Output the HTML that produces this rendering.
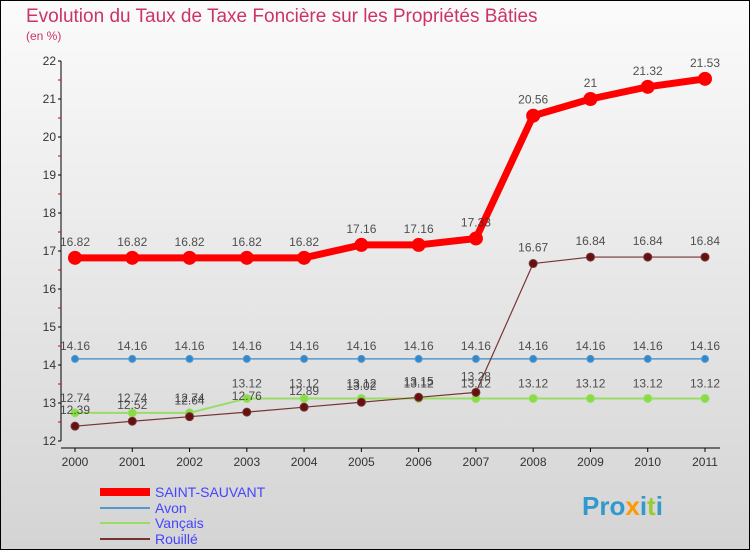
<!DOCTYPE html>
<html><head><meta charset="utf-8"><style>
body{margin:0;width:750px;height:550px;overflow:hidden;font-family:"Liberation Sans",sans-serif}
svg{display:block}
</style></head><body>
<svg id="c" width="750" height="550" xmlns="http://www.w3.org/2000/svg">
<defs><linearGradient id="bg" x1="0" y1="0" x2="0" y2="1"><stop offset="0" stop-color="#fbfbfb"/><stop offset="1" stop-color="#d4d4d4"/></linearGradient></defs>
<rect x="0.5" y="0.5" width="749" height="549" fill="url(#bg)" stroke="#000"/>
<text x="26" y="22" font-size="19" fill="#cc3366">Evolution du Taux de Taxe Foncière sur les Propriétés Bâties</text>
<text x="26" y="40" font-size="12" fill="#cc3366">(en %)</text>
<g id="axes"></g><g id="series"></g>
<g>
<rect x="100" y="488" width="50" height="8" fill="#ff0000"/>
<text x="155" y="497" font-size="14" fill="#4444ff">SAINT-SAUVANT</text>
<rect x="100" y="507" width="50" height="2" fill="#5599cc"/>
<text x="155" y="513" font-size="14" fill="#4444ff">Avon</text>
<rect x="100" y="522" width="50" height="2" fill="#99dd66"/>
<text x="155" y="528" font-size="14" fill="#4444ff">Vançais</text>
<rect x="100" y="538" width="50" height="2" fill="#773333"/>
<text x="155" y="544" font-size="14" fill="#4444ff">Rouillé</text>
</g>
<text x="582" y="515" font-size="26" font-weight="bold" fill="#3399cc">Pro<tspan fill="#ff9900">x</tspan>i<tspan fill="#99cc33">t</tspan>i</text>
</svg>
<script>
const years=[2000,2001,2002,2003,2004,2005,2006,2007,2008,2009,2010,2011];
const yTicks=[12,13,14,15,16,17,18,19,20,21,22];
const saint=[16.82,16.82,16.82,16.82,16.82,17.16,17.16,17.33,20.56,21,21.32,21.53];
const avon=[14.16,14.16,14.16,14.16,14.16,14.16,14.16,14.16,14.16,14.16,14.16,14.16];
const vancais=[12.74,12.74,12.74,13.12,13.12,13.12,13.12,13.12,13.12,13.12,13.12,13.12];
const rouille=[12.39,12.52,12.64,12.76,12.89,13.02,13.15,13.28,16.67,16.84,16.84,16.84];
const NS="http://www.w3.org/2000/svg";
const X=i=>75+i*(705-75)/11, Y=v=>441-(v-12)*38;
function mk(t,a,p){const e=document.createElementNS(NS,t);for(const k in a)e.setAttribute(k,a[k]);p.appendChild(e);return e;}
const ax=document.getElementById('axes');
const yl=mk('line',{x1:61,y1:61,x2:61,y2:441,stroke:'#000'},ax);


yTicks.forEach(v=>{
 mk('line',{x1:58,y1:Y(v),x2:61,y2:Y(v),stroke:'#000'},ax);
 if(v<22)mk('line',{x1:58,y1:Y(v+0.5),x2:61,y2:Y(v+0.5),stroke:'#d00'},ax);
 const t=mk('text',{x:56,y:Y(v)+4,'font-size':12,'text-anchor':'end',fill:'#333'},ax);t.textContent=v;
 
 
});
mk('line',{x1:61,y1:448,x2:720,y2:448,stroke:'#000'},ax);
years.forEach((y,i)=>{
 mk('line',{x1:X(i),y1:448,x2:X(i),y2:452,stroke:'#000'},ax);
 const t=mk('text',{x:X(i),y:466,'font-size':12,'text-anchor':'middle',fill:'#333'},ax);t.textContent=y;
 
 
});
const sg=document.getElementById('series');
function series(name,vals,col,w,r,mcol,lab,dy){
 const g=mk('g',{},sg);
 
 
 mk('polyline',{points:vals.map((v,i)=>X(i)+','+Y(v)).join(' '),fill:'none',stroke:col,'stroke-width':w,'stroke-linejoin':'round'},g);
 vals.forEach((v,i)=>{
  const c=mk('circle',{cx:X(i),cy:Y(v),r:r,fill:mcol,stroke:col,'stroke-width':1},g);
  
  
  const t=mk('text',{x:X(i),y:Y(v)+dy,'font-size':12,'text-anchor':'middle',fill:'#333',opacity:0.85},g);t.textContent=lab?String(v):v;
  
  
 });
}
series('avon',avon,'#5599cc',1.5,3.5,'#3388cc',true,-9);
series('vancais',vancais,'#99dd66',2,4,'#88dd44',true,-11);
series('rouille',rouille,'#773333',1.2,4,'#661111',true,-12);
series('saint-sauvant',saint,'#ff0000',7,6.5,'#ff0000',true,-12);
</script>
</body></html>
